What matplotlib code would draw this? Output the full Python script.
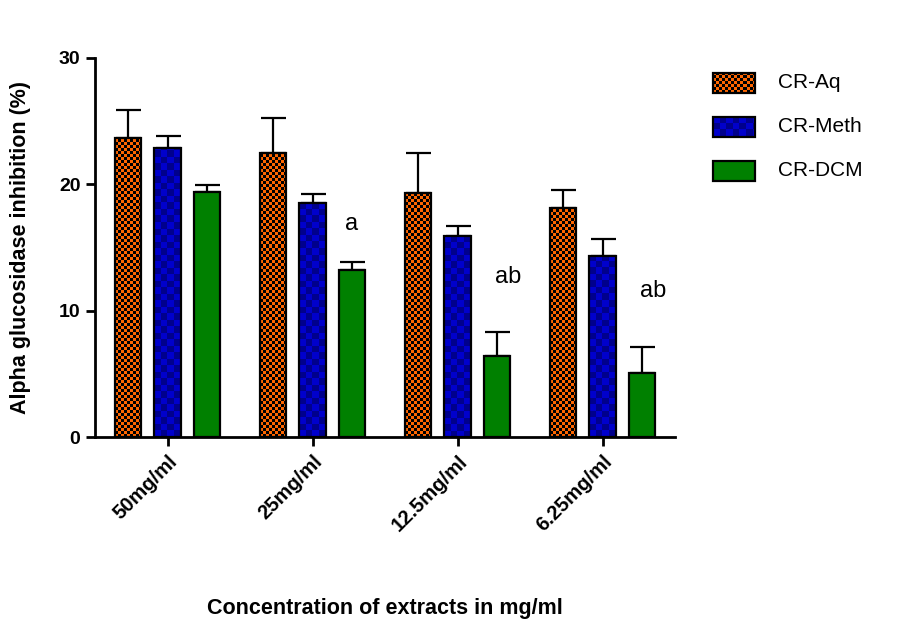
import numpy as np
import matplotlib.pyplot as plt
from matplotlib.colors import to_rgb
from matplotlib.patches import Rectangle

plt.rcParams['font.family'] = ['Liberation Sans', 'DejaVu Sans']

# extract concentrations and the three solvent extracts
concentrations = ['50mg/ml', '25mg/ml', '12.5mg/ml', '6.25mg/ml']
extracts = ['CR-Aq', 'CR-Meth', 'CR-DCM']

# mean inhibition (%) and upper error for each extract
aq_mean = [23.7, 22.5, 19.35, 18.1]
aq_err = [2.15, 2.75, 3.1, 1.45]
meth_mean = [22.9, 18.55, 15.9, 14.35]
meth_err = [0.9, 0.65, 0.8, 1.3]
dcm_mean = [19.4, 13.2, 6.4, 5.1]
dcm_err = [0.55, 0.65, 1.9, 2.05]

# significance letters over the DCM bars
letters = ['', 'a', 'ab', 'ab']

means = [aq_mean, meth_mean, dcm_mean]
errs = [aq_err, meth_err, dcm_err]
# (light colour, dark colour, checker cell size in px)
fills = [('#ff6600', '#000000', 3.0),
         ('#0000cc', '#00008c', 6.5),
         ('#008000', '#008000', 6.5)]

width = 0.183
offset = 0.271


def checker(light, dark, nx, ny):
    grid = np.add.outer(np.arange(ny), np.arange(nx)) % 2
    a, b = np.array(to_rgb(light)), np.array(to_rgb(dark))
    return np.where(grid[..., None] == 0, a, b)


fig = plt.figure(figsize=(9, 6.22), dpi=100)
ax = fig.add_axes([95 / 900, 1 - 437 / 622, 580 / 900, 379 / 622])
ax.set_xlim(-0.5, 3.5)
ax.set_ylim(0, 30)

px_x = ax.bbox.width / 4.0
px_y = ax.bbox.height / 30.0

x = np.arange(len(concentrations))
for i in range(3):
    pos = x + (i - 1) * offset
    light, dark, cell = fills[i]
    bars = ax.bar(pos, means[i], width, color=light, edgecolor='none', zorder=2)
    if light != dark:
        for rect in bars:
            nx = int(np.ceil(rect.get_width() * px_x / cell))
            ny = int(np.ceil(rect.get_height() * px_y / cell))
            x0 = rect.get_x()
            img = ax.imshow(checker(light, dark, nx, ny), origin='lower',
                            extent=(x0, x0 + nx * cell / px_x, 0, ny * cell / px_y),
                            aspect='auto', interpolation='nearest', zorder=2.2)
            img.set_clip_path(rect)
    ax.bar(pos, means[i], width, fill=False, edgecolor='black', linewidth=1.6, zorder=3)
    ax.errorbar(pos, means[i], yerr=[np.zeros(4), errs[i]], fmt='none',
                ecolor='black', elinewidth=1.6, capsize=9, capthick=1.6, zorder=1)

for j, txt in enumerate(letters):
    if txt:
        shift = 0.0 if len(txt) == 1 else 0.075
        ypos = dcm_mean[j] + dcm_err[j] + (3.0 if len(txt) == 1 else 4.4)
        ax.text(x[j] + offset + shift, ypos, txt, ha='center', va='center', fontsize=17)

ax.set_xlim(-0.5, 3.5)
ax.set_ylim(0, 30)
ax.set_yticks([0, 10, 20, 30])
ax.set_xticks(x)
ax.set_xticklabels(concentrations, rotation=45, ha='right', rotation_mode='anchor',
                   fontweight='bold', fontsize=14.5)
for lab in ax.get_yticklabels():
    lab.set_fontweight('bold')
    lab.set_fontsize(14)
ax.tick_params(axis='both', direction='out', length=6.5, width=2, pad=4)

for side in ['top', 'right']:
    ax.spines[side].set_visible(False)
for side in ['left', 'bottom']:
    ax.spines[side].set_linewidth(2)

ax.set_ylabel('Alpha glucosidase inhibition (%)', fontsize=15.5, fontweight='bold')
ax.yaxis.set_label_coords(-0.11, 0.5)
ax.set_xlabel('Concentration of extracts in mg/ml', fontsize=15.5, fontweight='bold')
ax.xaxis.set_label_coords(0.5, -0.425)

# legend drawn in pixel space to the right of the plot
lax = fig.add_axes([0, 0, 1, 1])
lax.set_xlim(0, 900)
lax.set_ylim(622, 0)
lax.axis('off')
for k, name in enumerate(extracts):
    light, dark, cell = fills[k]
    top = 72.7 + 44 * k
    key = Rectangle((712.7, top), 42.3, 20.6, facecolor=light, edgecolor='none', zorder=2)
    lax.add_patch(key)
    if light != dark:
        nx = int(np.ceil(42.3 / cell))
        ny = int(np.ceil(20.6 / cell))
        img = lax.imshow(checker(light, dark, nx, ny), origin='upper',
                         extent=(712.7, 712.7 + nx * cell, top + ny * cell, top),
                         aspect='auto', interpolation='nearest', zorder=2.2)
        img.set_clip_path(key)
    lax.add_patch(Rectangle((712.7, top), 42.3, 20.6, fill=False,
                            edgecolor='black', linewidth=1.6, zorder=3))
    lax.text(778, top + 10.3, name, ha='left', va='center', fontsize=15)
lax.set_xlim(0, 900)
lax.set_ylim(622, 0)

fig.savefig('out.png', dpi=100)
